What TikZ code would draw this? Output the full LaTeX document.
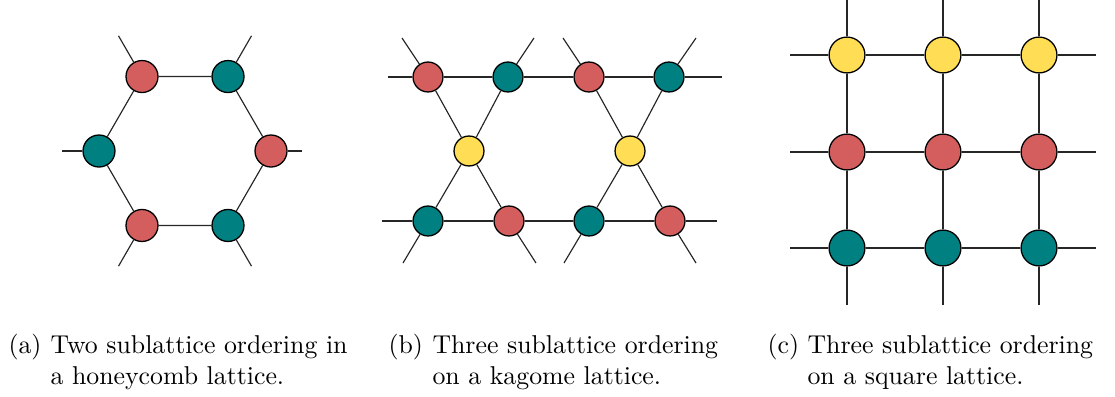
\documentclass[tikz,border=0pt]{standalone}
\usepackage{tikz}
\usetikzlibrary{calc}

\definecolor{sitered}{RGB}{212,94,94}
\definecolor{siteteal}{RGB}{0,128,128}
\definecolor{siteyellow}{RGB}{255,221,85}

\tikzset{
  site/.style={circle, draw=black, line width=0.5pt, inner sep=0pt},
  bond/.style={black!85, line width=0.45pt},
  legenda/.style={inner sep=0pt, anchor=base west, align=left, font=\normalsize}
}

\begin{document}
\begin{tikzpicture}[x=0.3876pt, y=-0.3876pt]
  \useasboundingbox (0,0) rectangle (1115,396);
  % (a) favo de mel
  \foreach \xn/\xang/\xcor in {1/0/sitered, 2/60/siteteal, 3/120/sitered,
      4/180/siteteal, 5/240/sitered, 6/300/siteteal}
  {
    \node[site, minimum size=12.4pt, fill=\xcor] (h\xn) at ($(185,151)+(-\xang:86)$) {};
    \coordinate (hf\xn) at ($(185,151)+(-\xang:86)+(-\xang:47)$);
  }
  \coordinate (hf1) at (302,151);
  \coordinate (hf4) at (62,151);
  \draw[bond] (h1) -- (h2) -- (h3) -- (h4) -- (h5) -- (h6) -- (h1);
  \foreach \xn in {1,...,6}
    \draw[bond] (h\xn) -- (hf\xn);
  % (b) kagome
  \foreach \xn/\xx/\xy/\xcor in {
    a1/428/77/sitered, a2/508/77/siteteal, a3/589/77/sitered, a4/669/77/siteteal,
    y1/469/151/siteyellow, y2/630/151/siteyellow,
    b1/428/221/siteteal, b2/509/221/sitered, b3/589/221/siteteal, b4/670/221/sitered}
    \node[site, minimum size=11.6pt, fill=\xcor] (k\xn) at (\xx,\xy) {};
  \coordinate (kl1) at (388,77);   \coordinate (kr1) at (722,77);
  \coordinate (kl2) at (382,221);  \coordinate (kr2) at (717,221);
  \coordinate (kt1) at (402,38);   \coordinate (kt2) at (534,38);
  \coordinate (kt3) at (563,38);   \coordinate (kt4) at (696,38);
  \coordinate (kd1) at (403,263);  \coordinate (kd2) at (536,263);
  \coordinate (kd3) at (564,263);  \coordinate (kd4) at (696,263);
  \draw[bond] (kl1) -- (ka1) -- (ka2) -- (ka3) -- (ka4) -- (kr1);
  \draw[bond] (kl2) -- (kb1) -- (kb2) -- (kb3) -- (kb4) -- (kr2);
  \draw[bond] (kt1) -- (ka1) -- (ky1) -- (kb2) -- (kd2);
  \draw[bond] (kt2) -- (ka2) -- (ky1) -- (kb1) -- (kd1);
  \draw[bond] (kt3) -- (ka3) -- (ky2) -- (kb4) -- (kd4);
  \draw[bond] (kt4) -- (ka4) -- (ky2) -- (kb3) -- (kd3);
  % (c) quadrada: uma cor por linha
  \foreach \xr/\xy/\xcor in {1/55/siteyellow, 2/152/sitered, 3/248/siteteal}
    \foreach \xc/\xx in {1/847, 2/943, 3/1039}
      \node[site, minimum size=13.9pt, fill=\xcor] (s\xr\xc) at (\xx,\xy) {};
  \foreach \xr/\xy in {1/55, 2/152, 3/248}
  {
    \coordinate (sl\xr) at (790,\xy);
    \coordinate (sr\xr) at (1096,\xy);
    \draw[bond] (sl\xr) -- (s\xr1) -- (s\xr2) -- (s\xr3) -- (sr\xr);
  }
  \foreach \xc/\xx in {1/847, 2/943, 3/1039}
  {
    \coordinate (su\xc) at (\xx,0);
    \coordinate (sd\xc) at (\xx,305);
    \draw[bond] (su\xc) -- (s1\xc) -- (s2\xc) -- (s3\xc) -- (sd\xc);
  }
  % legendas (a ancora base de um texto em duas linhas fica na ultima linha)
  \node[legenda] (capa) at (8,353) {(a)};
  \node[legenda] (texta) at (50,384) {Two sublattice ordering in\\a honeycomb lattice.};
  \node[legenda] (capb) at (388,353) {(b)};
  \node[legenda] (textb) at (432,384) {Three sublattice ordering\\on a kagome lattice.};
  \node[legenda] (capc) at (767,353) {(c)};
  \node[legenda] (textc) at (807,384) {Three sublattice ordering\\on a square lattice.};
\end{tikzpicture}
\end{document}
